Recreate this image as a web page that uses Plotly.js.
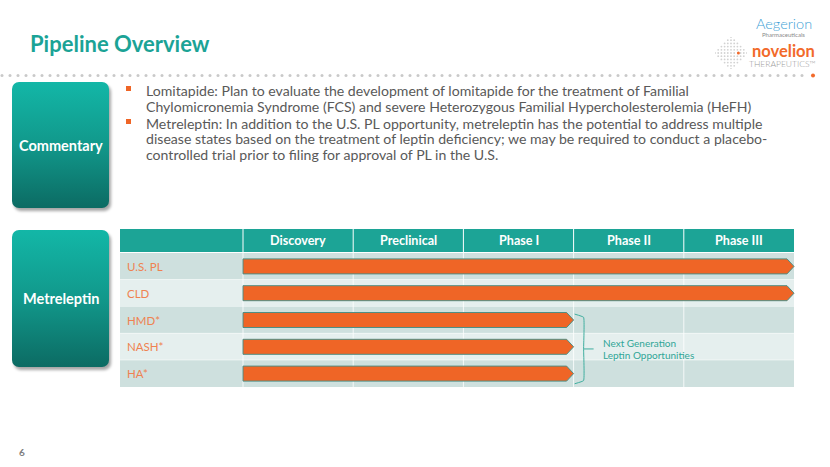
<!DOCTYPE html>
<html><head><meta charset="utf-8">
<script src="https://cdn.plot.ly/plotly-3.0.1.min.js"></script>
<style>html,body{margin:0;padding:0;background:#fff;}#chart{width:830px;height:467px;}</style>
</head><body><div id="chart"></div>
<script>
// ---- data ----
const phases = ['Discovery', 'Preclinical', 'Phase I', 'Phase II', 'Phase III'];
const programs = ['U.S. PL', 'CLD', 'HMD*', 'NASH*', 'HA*'];
const progressStart = [0, 0, 0, 0, 0];
const progressEnd = [5, 5, 3, 3, 3];
const groupedPrograms = ['HMD*', 'NASH*', 'HA*'];
const groupLabel = ['Next Generation', 'Leptin Opportunities'];
const commentaryLines = [
  'Lomitapide: Plan to evaluate the development of lomitapide for the treatment of Familial',
  'Chylomicronemia Syndrome (FCS) and severe Heterozygous Familial Hypercholesterolemia (HeFH)',
  'Metreleptin: In addition to the U.S. PL opportunity, metreleptin has the potential to address multiple',
  'disease states based on the treatment of leptin deficiency; we may be required to conduct a placebo-',
  'controlled trial prior to filing for approval of PL in the U.S.'
];
const bulletStarts = [0, 2];
const titleText = 'Pipeline Overview';
const sideLabels = ['Commentary', 'Metreleptin'];
const pageNumber = '6';

// ---- geometry helpers ----
const W = 830, H = 467;
const px = x => x / W;
const py = y => 1 - y / H;
const FONT = 'Lato, "Open Sans", sans-serif';
const ORANGE = '#ef6526';

const colW = 110.2, rowH = 26.8;
const labelW = 123 / colW;
const xMin = -labelW, xMax = 5 + 6 / colW;
const headTop = -0.5 - 24 / rowH, headBot = -0.5 - 1 / rowH;

// ---- traces: arrow bars ----
const half = 0.28, head = 7 / colW;
const traces = programs.map((p, i) => {
  const s = progressStart[i], e = progressEnd[i];
  return {
    type: 'scatter', mode: 'lines', fill: 'toself',
    x: [s, e - head, e, e - head, s, s],
    y: [i - half, i - half, i, i + half, i + half, i - half],
    fillcolor: ORANGE, line: {color: '#4f8e84', width: 1},
    hoverinfo: 'skip', showlegend: false, name: p
  };
});

// bracket for grouped programs
const gIdx = groupedPrograms.map(g => programs.indexOf(g));
const gEnd = Math.max(...gIdx.map(i => progressEnd[i]));
const gTop = Math.min(...gIdx) - 0.22, gBot = Math.max(...gIdx) + 0.38;
const gMid = (gTop + gBot) / 2;
const bx0 = gEnd + 1 / colW, bx1 = gEnd + 10 / colW, bx2 = gEnd + 20 / colW;
traces.push({
  type: 'scatter', mode: 'lines',
  x: [bx0, bx1, bx1, bx1, bx0, null, bx1, bx2],
  y: [gTop, gTop + 0.12, gMid, gBot - 0.12, gBot, null, gMid, gMid],
  line: {color: '#3fae9f', width: 1, shape: 'spline', smoothing: 0.3},
  hoverinfo: 'skip', showlegend: false
});

// ---- shapes: table ----
const shapes = [];
shapes.push({type: 'rect', xref: 'x', yref: 'y', x0: xMin, x1: 5, y0: headTop, y1: headBot,
  fillcolor: '#1ca496', line: {width: 0}, layer: 'below'});
programs.forEach((p, i) => {
  shapes.push({type: 'rect', xref: 'x', yref: 'y', x0: xMin, x1: 5, y0: i - 0.5, y1: i + 0.5,
    fillcolor: i % 2 === 0 ? '#cee0de' : '#e5efee', line: {width: 0}, layer: 'below'});
  if (i < programs.length - 1)
    shapes.push({type: 'line', xref: 'x', yref: 'y', x0: xMin, x1: 5, y0: i + 0.5, y1: i + 0.5,
      line: {color: 'rgba(255,255,255,0.9)', width: 1}, layer: 'below'});
});
phases.forEach((ph, k) => {
  shapes.push({type: 'line', xref: 'x', yref: 'y', x0: k, x1: k, y0: headTop, y1: headBot,
    line: {color: '#ffffff', width: 1}, layer: 'below'});
  shapes.push({type: 'line', xref: 'x', yref: 'y', x0: k, x1: k, y0: -0.5, y1: programs.length - 0.5,
    line: {color: 'rgba(255,255,255,0.8)', width: 1}, layer: 'below'});
});
// bullets
const lineY = [90, 106.5, 123, 138.5, 154];
bulletStarts.forEach(li => {
  const yc = lineY[li];
  shapes.push({type: 'rect', xref: 'paper', yref: 'paper', x0: px(126), x1: px(131), y0: py(yc - 4), y1: py(yc + 1),
    fillcolor: ORANGE, line: {width: 0}});
});

// ---- annotations ----
const ann = [];
function txt(x, y, text, font, xanchor) {
  ann.push({xref: 'paper', yref: 'paper', x: px(x), y: py(y), xanchor: xanchor || 'center', yanchor: 'middle',
    text: text, showarrow: false, font: Object.assign({family: FONT}, font)});
}
txt(28, 43, '<b>' + titleText + '</b>', {size: 22, color: '#1ba396'}, 'left');
commentaryLines.forEach((t, i) => txt(144, lineY[i], t, {size: 14.1, color: '#595959'}, 'left'));
phases.forEach((ph, k) => {
  ann.push({xref: 'x', yref: 'y', x: k + 0.5, y: (headTop + headBot) / 2, text: '<b>' + ph + '</b>',
    xanchor: 'center', yanchor: 'middle',
    showarrow: false, font: {family: FONT, size: 12.6, color: '#ffffff'}});
});
programs.forEach((p, i) => {
  ann.push({xref: 'x', yref: 'y', x: xMin + 5 / colW, y: i, xanchor: 'left', yanchor: 'middle', text: p,
    showarrow: false, font: {family: FONT, size: 11.5, color: '#ef8251'}});
});
groupLabel.forEach((t, j) => {
  ann.push({xref: 'x', yref: 'y', x: bx2 + 7 / colW, y: gMid + (j - 0.5) * 12.5 / rowH, xanchor: 'left',
    yanchor: 'middle', text: t, showarrow: false, font: {family: FONT, size: 10, color: '#30a697'}});
});
txt(61, 145, '<b>' + sideLabels[0] + '</b>', {size: 14.5, color: '#ffffff'});
txt(61, 298, '<b>' + sideLabels[1] + '</b>', {size: 14.5, color: '#ffffff'});
txt(17, 452, '<b>' + pageNumber + '</b>', {size: 10, color: '#7f7f7f'}, 'left');
// logo text
txt(783.5, 24, 'Aegerion', {size: 14.5, color: '#3d9fd6', weight: 300});
txt(783.5, 34.5, 'Pharmaceuticals', {size: 6, color: '#8a8a8a'});
txt(783.5, 51.5, '<b>novelion</b>', {size: 16.5, color: '#f26a2a'});
txt(782, 64, 'THERAPEUTICS™', {size: 8.5, color: '#9a9a9a', weight: 300});

// ---- images: boxes, dotted rule, logo dots ----
function uri(svg) { return 'data:image/svg+xml;charset=utf-8,' + encodeURIComponent(svg); }
function boxSVG(w, h) {
  return `<svg xmlns='http://www.w3.org/2000/svg' width='${w + 8}' height='${h + 8}'><defs>` +
    `<linearGradient id='g' x1='0' y1='0' x2='0' y2='1'><stop offset='0' stop-color='#13b7a7'/>` +
    `<stop offset='0.5' stop-color='#11988b'/><stop offset='1' stop-color='#0c6b63'/></linearGradient>` +
    `<filter id='s' x='-10%' y='-10%' width='130%' height='130%'><feGaussianBlur stdDeviation='1.5'/></filter></defs>` +
    `<rect x='2' y='3' width='${w}' height='${h}' rx='7' fill='#000' opacity='0.35' filter='url(#s)'/>` +
    `<rect x='0' y='0' width='${w}' height='${h}' rx='7' fill='url(#g)'/></svg>`;
}
const images = [];
function addBox(x, y, w, h) {
  images.push({source: uri(boxSVG(w, h)), xref: 'paper', yref: 'paper', x: px(x), y: py(y),
    sizex: (w + 8) / W, sizey: (h + 8) / H, sizing: 'stretch', xanchor: 'left', yanchor: 'top', layer: 'below'});
}
addBox(12, 82, 97, 126);
addBox(12, 230, 97, 137);
// dotted rule
(function () {
  let c = '';
  for (let x = 2; x < 808; x += 8) c += `<circle cx='${x.toFixed(1)}' cy='4' r='1.5' fill='#c9c9c9'/>`;
  c += `<circle cx='813' cy='4' r='2' fill='#f26a2a'/>`;
  const svg = `<svg xmlns='http://www.w3.org/2000/svg' width='820' height='8'>${c}</svg>`;
  images.push({source: uri(svg), xref: 'paper', yref: 'paper', x: 0, y: py(71.5), sizex: 820 / W, sizey: 8 / H,
    sizing: 'stretch', xanchor: 'left', yanchor: 'top', layer: 'below'});
})();
// logo dot diamond
(function () {
  let c = '';
  const cx = 16, cy = 16, step = 3.2;
  for (let i = -5; i <= 5; i++) for (let j = -5; j <= 5; j++) {
    if (Math.abs(i) + Math.abs(j) > 5) continue;
    if (i === 2 && j === 0) continue;
    const x = cx + i * step, y = cy + j * step;
    c += `<circle cx='${x}' cy='${y}' r='0.9' fill='#d2d2d2'/>`;
  }
  c += `<circle cx='${cx + 2 * step + 1}' cy='${cy}' r='1.5' fill='#f26a2a'/>`;
  const svg = `<svg xmlns='http://www.w3.org/2000/svg' width='32' height='32'>${c}</svg>`;
  images.push({source: uri(svg), xref: 'paper', yref: 'paper', x: px(715), y: py(37), sizex: 32 / W, sizey: 32 / H,
    sizing: 'stretch', xanchor: 'left', yanchor: 'top', layer: 'below'});
})();

const layout = {
  width: W, height: H, margin: {l: 0, r: 0, t: 0, b: 0},
  paper_bgcolor: '#ffffff', plot_bgcolor: 'rgba(0,0,0,0)',
  xaxis: {range: [xMin, xMax], domain: [px(120), px(800)], visible: false, fixedrange: true},
  yaxis: {range: [programs.length - 0.5, headTop], domain: [py(387), py(229)], visible: false, fixedrange: true},
  shapes: shapes, annotations: ann, images: images, showlegend: false
};
Plotly.newPlot('chart', traces, layout, {displayModeBar: false, staticPlot: true});
</script></body></html>
